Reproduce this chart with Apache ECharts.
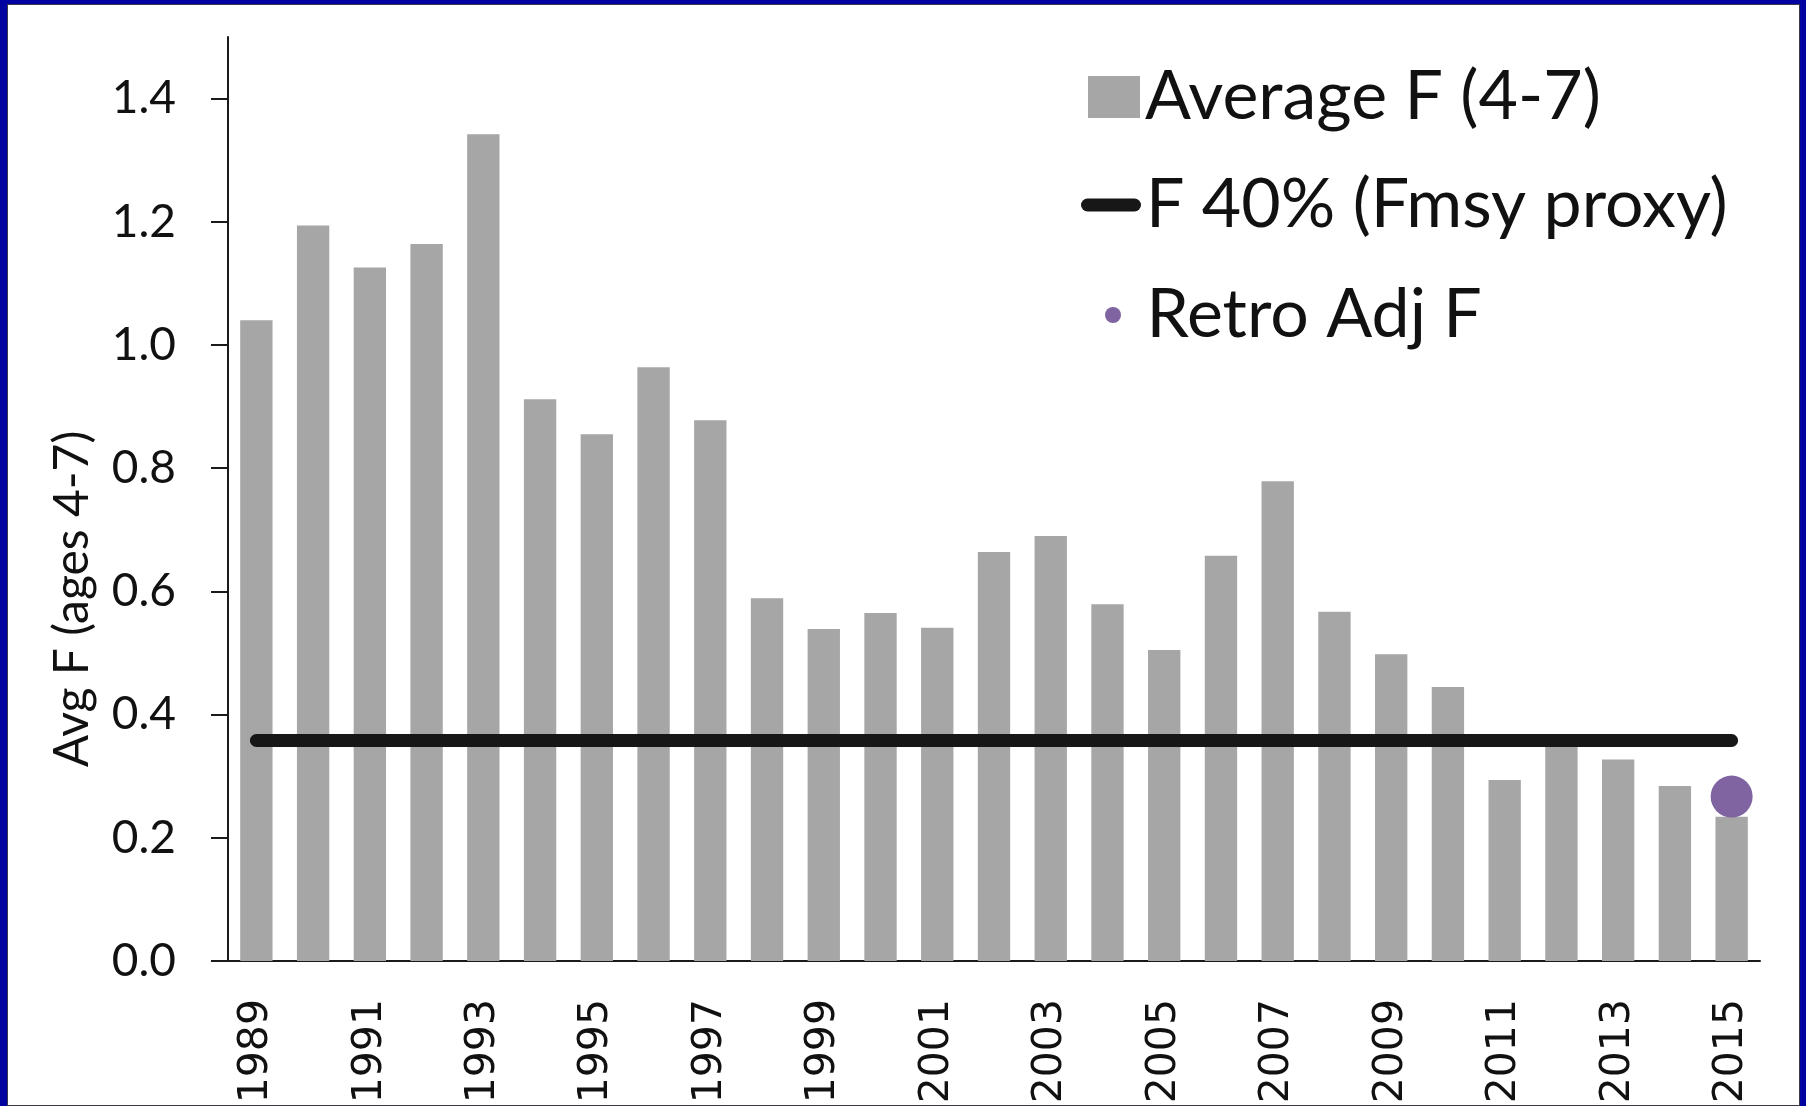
<!DOCTYPE html>
<html>
<head>
<meta charset="utf-8">
<script src="https://cdn.jsdelivr.net/npm/echarts@6/dist/echarts.min.js"></script>
<style>
    html, body { margin: 0; padding: 0; background: #fff; }
    #main { position: absolute; left: 0; top: 0; width: 1806px; height: 1106px; }
    /* blue slide frame round the chart */
    #frame {
        position: absolute; left: 0; top: 0; width: 1806px; height: 1106px;
        box-sizing: border-box; pointer-events: none;
        border-style: solid; border-color: #0202a0;
        border-width: 4px 6px 0 7px;
        box-shadow: inset 0 0 0 1px #3a3a4a;
    }
</style>
</head>
<body>
<div id="main"></div>
<div id="frame"></div>
<script>
// 年份
let years = ['1989','1990','1991','1992','1993','1994','1995','1996','1997','1998','1999','2000','2001','2002',
    '2003','2004','2005','2006','2007','2008','2009','2010','2011','2012','2013','2014','2015'];
// Average F (4-7)
let avgF = [1.040, 1.194, 1.126, 1.164, 1.342, 0.912, 0.855, 0.964, 0.878, 0.589, 0.539, 0.565, 0.541, 0.664,
    0.690, 0.579, 0.505, 0.658, 0.779, 0.567, 0.498, 0.445, 0.294, 0.360, 0.327, 0.284, 0.234];
// F 40% (Fmsy proxy)
let fmsy = [0.358, 0.358, 0.358, 0.358, 0.358, 0.358, 0.358, 0.358, 0.358, 0.358, 0.358, 0.358, 0.358, 0.358,
    0.358, 0.358, 0.358, 0.358, 0.358, 0.358, 0.358, 0.358, 0.358, 0.358, 0.358, 0.358, 0.358];
// Retro Adj F
let retroYears = ['2015'];
let retroF = [0.267];
// y轴刻度
let yTicks = [0, 0.2, 0.4, 0.6, 0.8, 1.0, 1.2, 1.4];

let names = ['Average F (4-7)', 'F 40% (Fmsy proxy)', 'Retro Adj F'];
let textColor = '#111';
let legendFont = { color: textColor, fontFamily: 'Lato', fontSize: 68 };

let option = {
    animation: false,
    backgroundColor: '#fff',
    // outerBoundsMode none: 不要因为x轴标签超出而压缩绘图区
    grid: { left: 228, right: 46, top: 37, bottom: 145, outerBoundsMode: 'none', containLabel: false },
    legend: [
        {
            data: [{ name: names[0], icon: 'rect' }],
            left: 1088, top: 63, padding: 0,
            itemWidth: 52, itemHeight: 42,
            selectedMode: false,
            textStyle: legendFont
        },
        {
            data: [{ name: names[1], icon: 'path://M6.5,0H53.5A6.5,6.5,0,0,1,53.5,13H6.5A6.5,6.5,0,0,1,6.5,0Z' }],
            left: 1081, top: 171, padding: 0,
            itemWidth: 60, itemHeight: 13,
            selectedMode: false,
            textStyle: legendFont
        },
        {
            data: [{ name: names[2], icon: 'circle' }],
            left: 1105, top: 281, padding: 0,
            itemWidth: 57, itemHeight: 16,
            selectedMode: false,
            textStyle: legendFont
        }
    ],
    xAxis: {
        type: 'category',
        data: years,
        boundaryGap: true,
        axisLine: { lineStyle: { color: '#1a1a1a', width: 2 } },
        axisTick: { show: false },
        axisLabel: {
            interval: 1,
            rotate: 90,
            margin: 38,
            color: textColor,
            fontFamily: 'DejaVu Sans',
            fontSize: 41
        },
        splitLine: { show: false }
    },
    yAxis: {
        type: 'value',
        min: 0,
        max: 1.5,
        name: 'Avg F (ages 4-7)',
        nameLocation: 'middle',
        nameRotate: 90,
        nameGap: 131,
        nameTextStyle: {
            color: textColor,
            fontFamily: 'Lato',
            fontSize: 48,
            padding: [0, 200, 0, 0]
        },
        axisLine: { show: true, lineStyle: { color: '#1a1a1a', width: 2 } },
        axisTick: {
            show: true, length: 17, customValues: yTicks,
            lineStyle: { color: '#1a1a1a', width: 2 }
        },
        axisLabel: {
            customValues: yTicks,
            margin: 52,
            color: textColor,
            fontFamily: 'Lato',
            fontSize: 46,
            formatter: function (v) { return v.toFixed(1); }
        },
        splitLine: { show: false }
    },
    series: [
        {
            name: names[0],
            type: 'bar',
            data: avgF,
            barWidth: '57%',
            itemStyle: { color: '#a6a6a6' },
            z: 1
        },
        {
            name: names[1],
            type: 'line',
            data: fmsy,
            showSymbol: false,
            symbol: 'none',
            color: '#171717',
            itemStyle: { color: '#171717' },
            lineStyle: { color: '#171717', width: 13, cap: 'round' },
            z: 3
        },
        {
            name: names[2],
            type: 'scatter',
            data: retroYears.map(function (y, i) { return [y, retroF[i]]; }),
            symbolSize: 42,
            itemStyle: { color: '#8064a2', opacity: 1 },
            z: 4
        }
    ]
};

let chart = echarts.init(document.getElementById('main'));
chart.setOption(option);
</script>
</body>
</html>
